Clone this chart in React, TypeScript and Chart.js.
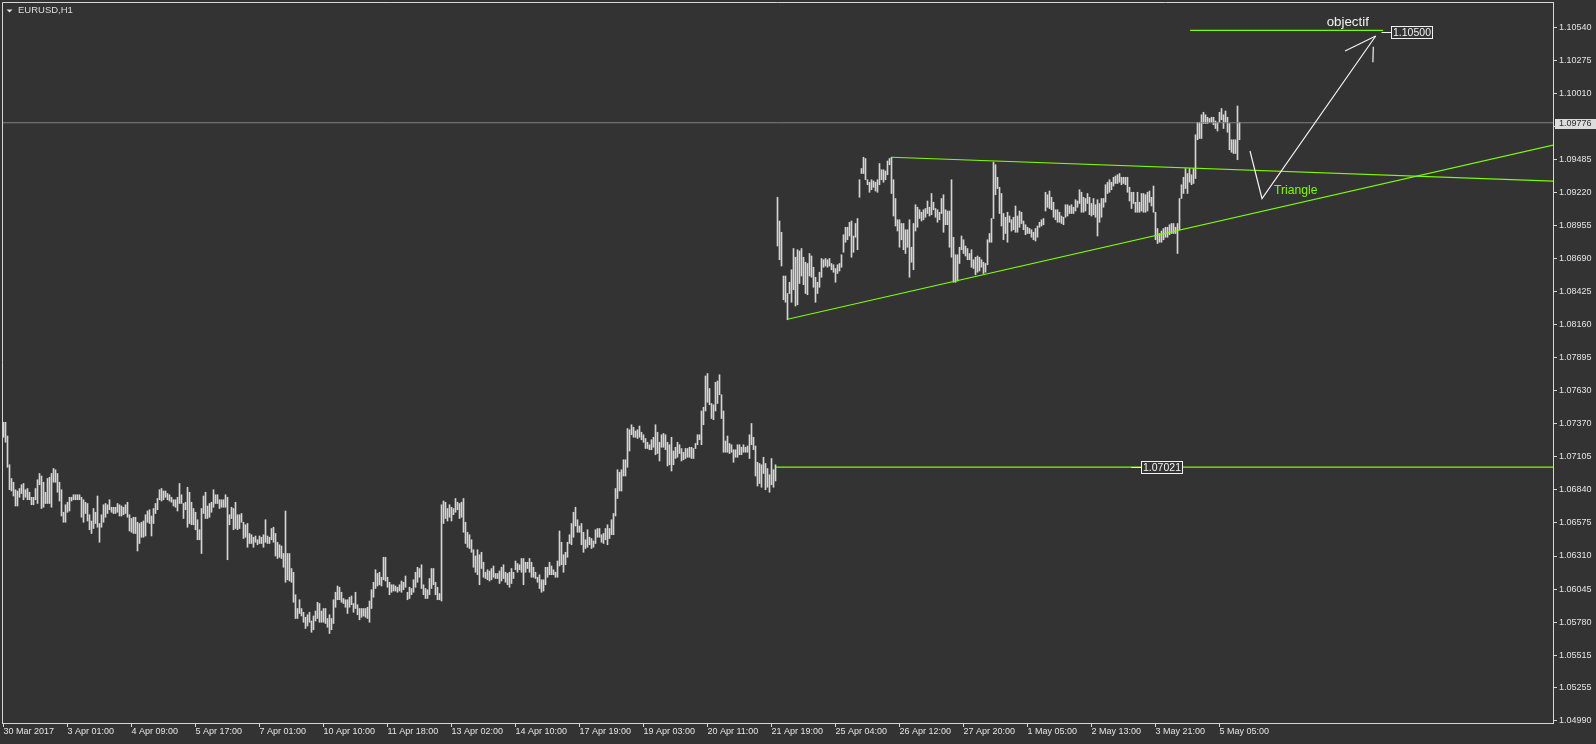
import React, { useEffect, useRef } from 'react';
import { Chart, registerables } from 'chart.js';

Chart.register(...registerables);

// ---------------- data ----------------
const SYMBOL_TITLE = 'EURUSD,H1';

// H1 bar highs / lows, stored in pips above 1.0000 (price = 1 + v / 10000)
// 30 Mar 2017 .. 21 Apr 2017 (bars 0..386)
const HIGH_A = [
  738,738,727,704,693,690,684,683,685,688,
  689,684,685,682,678,678,685,692,697,695,
  690,682,693,694,697,701,700,697,690,684,
  666,672,674,678,678,680,680,680,680,678,
  676,674,673,664,659,669,666,679,657,664,
  672,673,672,676,670,670,670,673,672,671,
  670,672,674,664,661,662,662,658,657,658,
  659,664,667,668,663,669,673,677,684,685,
  683,683,681,680,678,676,676,678,689,680,
  673,674,686,682,674,669,666,660,652,669,
  679,682,671,673,674,684,680,680,676,676,
  676,680,678,664,670,669,674,664,664,665,
  658,656,657,649,648,646,647,644,647,646,
  648,660,647,646,653,654,649,642,640,639,
  633,667,633,633,621,618,600,589,596,589,
  586,582,584,586,579,583,587,594,593,587,
  589,589,581,584,581,596,602,607,606,602,
  597,596,596,598,599,593,602,592,589,589,
  589,589,590,595,604,610,620,617,618,614,
  630,630,614,610,608,608,607,606,608,
  611,610,615,602,606,605,612,618,622,621,
  624,608,605,604,613,621,621,610,606,601,
  672,675,674,669,672,670,669,677,674,673,
  674,677,658,650,648,644,636,631,636,632,
  634,626,618,620,619,621,623,617,617,619,
  622,624,618,617,618,621,618,627,625,624,
  629,629,626,626,629,626,622,618,614,616,
  612,612,622,622,626,623,620,618,627,651,
  642,632,634,642,648,657,666,670,660,655,
  657,650,644,652,646,645,643,652,653,653,
  648,649,653,656,653,660,665,685,700,698,
  700,708,708,733,732,736,734,731,732,735,
  730,728,725,722,720,724,726,736,730,722,
  728,729,728,722,720,726,715,718,722,720,
  717,714,717,717,718,718,717,721,728,728,
  747,750,775,777,765,753,752,770,771,776,
  760,747,723,727,721,720,716,716,720,720,
  718,720,718,719,728,737,726,719,706,705,
  704,710,705,701,696,709,700,704,
];
const LOW_A = [
  726,722,702,684,683,679,671,671,678,681,
  676,678,676,676,672,672,676,673,688,669,
  670,673,673,673,670,690,690,682,675,663,
  658,658,666,667,675,676,676,676,676,662,
  658,665,659,652,649,653,657,654,642,654,
  658,662,665,668,666,665,665,666,663,663,
  664,665,662,651,650,649,649,635,641,646,
  646,647,658,657,647,657,665,668,676,675,
  676,678,676,675,674,671,670,667,673,673,
  661,668,654,657,656,656,652,644,644,633,
  665,661,661,662,666,670,673,673,669,670,
  670,670,628,656,661,652,653,652,653,658,
  645,646,638,641,641,638,642,640,641,641,
  638,642,641,641,644,642,631,629,630,629,
  622,610,612,611,610,594,581,581,585,583,
  578,573,575,578,570,572,579,581,578,578,
  578,577,574,569,572,577,590,596,596,594,
  593,590,585,590,592,586,589,584,580,582,
  583,582,581,578,589,598,605,607,608,607,
  612,611,606,600,602,603,603,602,603,
  602,604,606,596,597,600,602,606,610,614,
  605,600,597,597,600,605,608,600,596,596,
  595,657,661,659,662,659,664,666,668,661,
  662,650,641,638,637,634,622,618,616,608,
  621,614,613,612,611,612,614,613,613,609,
  611,613,610,608,606,609,613,620,618,620,
  618,608,618,621,618,614,614,613,610,605,
  602,603,608,614,616,616,616,614,614,623,
  624,618,624,630,641,640,646,655,650,650,
  640,634,637,638,640,637,638,641,646,646,
  642,641,644,640,645,648,648,663,677,683,
  683,695,695,702,715,728,726,726,725,726,
  724,722,717,717,716,716,718,712,713,707,
  718,718,716,703,704,699,704,709,710,713,
  707,708,709,710,710,709,709,717,720,724,
  720,736,747,754,752,741,740,747,753,760,
  741,714,714,714,713,714,706,710,710,712,
  712,714,714,714,709,720,716,695,687,689,
  686,697,684,686,682,688,686,691,
];
// 24 Apr 2017 .. 5 May 2017 (bars 387..618)
const HIGH_B = [
  918,899,890,855,855,841,850,860,877,870,
  876,875,877,870,866,865,873,871,862,854,
  850,858,869,868,869,868,869,865,864,861,
  864,865,872,888,894,894,898,899,887,897,
  901,932,941,950,949,932,930,932,931,930,
  932,945,940,940,939,947,949,950,932,917,
  900,900,897,897,892,892,900,878,897,912,
  910,908,906,908,909,915,910,921,914,909,
  908,906,917,920,908,907,907,932,886,872,
  872,878,887,884,879,877,873,876,868,870,
  871,870,868,866,865,884,889,901,946,944,
  934,926,921,905,902,906,903,900,902,911,
  903,907,906,899,896,894,893,892,890,893,
  895,898,900,901,922,920,923,918,914,908,
  908,906,903,902,912,912,911,912,910,916,
  915,924,922,918,917,921,918,913,917,912,
  916,913,917,917,928,930,932,930,934,935,
  936,937,934,934,934,934,926,922,922,914,
  922,914,921,921,920,922,923,918,927,906,
  893,889,891,893,894,894,896,897,897,894,
  897,917,
  928,934,941,937,941,936,941,968,978,978,
  984,986,984,982,981,982,982,979,978,986,
  989,984,987,982,977,964,964,964,991,978,
];
const LOW_B = [
  879,868,863,836,834,820,841,834,844,831,
  832,849,855,848,841,840,855,854,846,834,
  841,846,854,862,863,862,863,860,858,850,
  857,859,862,874,882,884,887,870,874,886,
  876,918,937,937,932,928,922,924,926,923,
  922,928,932,930,932,936,944,921,903,895,
  891,878,884,876,873,878,854,866,860,891,
  894,901,899,900,902,905,903,904,908,902,
  898,900,905,890,896,896,878,870,850,850,
  851,865,876,873,871,868,868,862,861,856,
  858,859,862,857,858,864,882,882,901,920,
  925,905,895,884,889,882,898,891,892,890,
  890,894,897,892,888,889,889,886,884,883,
  886,894,895,896,907,910,909,908,902,900,
  898,898,897,896,902,903,905,905,905,907,
  910,913,906,906,907,913,904,903,904,902,
  887,898,902,910,914,921,922,924,927,929,
  929,930,928,929,928,922,915,909,913,906,
  906,906,907,906,906,907,914,911,906,884,
  881,882,882,884,886,886,888,889,889,889,
  873,892,
  917,921,925,921,930,928,929,933,964,965,
  965,977,977,977,978,978,976,973,971,978,
  980,973,978,970,956,954,953,953,948,964,
];

// time axis labels (bar index of each label)
const TIME_TICK_BARS = [0,32,64,96,128,160,192,224,256,288,320,352,384,416,448,480,512,544,576,608];
const TIME_LABELS = [
  '30 Mar 2017','3 Apr 01:00','4 Apr 09:00','5 Apr 17:00','7 Apr 01:00','10 Apr 10:00',
  '11 Apr 18:00','13 Apr 02:00','14 Apr 10:00','17 Apr 19:00','19 Apr 03:00','20 Apr 11:00',
  '21 Apr 19:00','25 Apr 04:00','26 Apr 12:00','27 Apr 20:00','1 May 05:00','2 May 13:00',
  '3 May 21:00','5 May 05:00',
];
// price axis labels
const PRICE_TICKS = [
  1.10540,1.10275,1.10010,1.09750,1.09485,1.09220,1.08955,1.08690,1.08425,1.08160,1.07895,
  1.07630,1.07370,1.07105,1.06840,1.06575,1.06310,1.06045,1.05780,1.05515,1.05255,1.04990,
];

const PRICE_NOW = 1.09776;
const SUPPORT_LEVEL = 1.07021;
const SUPPORT_FROM_BAR = 386;
const TARGET_LEVEL = 1.105;
// drawn objects: [bar, price] anchor points
const TREND_UPPER = [[444, 1.0950], [775, 1.09309]];
const TREND_LOWER = [[392, 1.08204], [775, 1.09598]];
const TARGET_LINE = [[593.3, 1.10515], [689.8, 1.10515]];
const ARROW_PATH = [[623.25, 1.0955], [629.25, 1.0917], [686.1, 1.1047]];
const ARROW_BARB_A = [[670.75, 1.1035], [686.1, 1.1047]];
const ARROW_BARB_B = [[684.9, 1.10384], [684.7, 1.1026]];
// text notes
const NOTE_TEXTS = ['objectif', 'Triangle'];
const NOTE_BARS = [661.6, 635.25];
const NOTE_PRICES = [1.10576, 1.09232];
// price tags drawn on the chart
const TAG_PRICES = [SUPPORT_LEVEL, TARGET_LEVEL];
const TAG_BARS = [579, 703.75];

// ---------------- styles ----------------
const FONT = "'Liberation Sans', Arial, sans-serif";
const BG = '#333333';
const AXIS_LINE = '#d6d6d6';
const AXIS_TEXT = '#e4e4e4';
const BAR_COLOR = '#d4d4d4';
const GREEN = '#7cfc00';
const WHITE = '#f2f2f2';
const X_MIN = -0.75;
const X_MAX = 774.75;
const Y_MIN = 1.04974;
const Y_MAX = 1.10742;

const toPrice = (p: number) => 1 + p / 10000;
const pts = (arr: number[][]) => arr.map(([x, y]) => ({ x, y }));

export default function App() {
  const ref = useRef<HTMLCanvasElement>(null);

  useEffect(() => {
    document.body.style.margin = '0';
    document.body.style.background = BG;
    document.body.style.overflow = 'hidden';
    const canvas = ref.current;
    if (!canvas) return;

    const highs = [...HIGH_A, ...HIGH_B];
    const lows = [...LOW_A, ...LOW_B];
    const bars = highs.map((h, i) => ({ x: i, y: [toPrice(lows[i]), toPrice(h)] }));

    const lineDs = (data: any[], color: string, order: number, width = 1.2) => ({
      type: 'line',
      data,
      borderColor: color,
      borderWidth: width,
      pointRadius: 0,
      pointHoverRadius: 0,
      fill: false,
      tension: 0,
      order,
    });

    const overlay = {
      id: 'overlay',
      beforeDraw(chart: any) {
        const { ctx, width, height } = chart;
        ctx.save();
        ctx.fillStyle = BG;
        ctx.fillRect(0, 0, width, height);
        ctx.restore();
      },
      afterDraw(chart: any) {
        const { ctx, chartArea: a } = chart;
        const xs = chart.scales.x;
        const ys = chart.scales.y;
        ctx.save();
        // frame (left and top)
        ctx.strokeStyle = AXIS_LINE;
        ctx.lineWidth = 1;
        ctx.beginPath();
        ctx.moveTo(a.left + 0.5, a.bottom);
        ctx.lineTo(a.left + 0.5, a.top + 0.5);
        ctx.lineTo(a.right, a.top + 0.5);
        ctx.stroke();
        // title
        ctx.fillStyle = '#e0e0e0';
        ctx.beginPath();
        ctx.moveTo(6.5, 9.5);
        ctx.lineTo(12.5, 9.5);
        ctx.lineTo(9.5, 12.5);
        ctx.closePath();
        ctx.fill();
        ctx.font = `9.5px ${FONT}`;
        ctx.textBaseline = 'middle';
        ctx.textAlign = 'left';
        ctx.fillStyle = '#dedede';
        ctx.fillText(SYMBOL_TITLE, 18, 10.5);
        // notes
        NOTE_TEXTS.forEach((t, k) => {
          ctx.fillStyle = k === 0 ? WHITE : GREEN;
          ctx.font = k === 0 ? `13.3px ${FONT}` : `12.2px ${FONT}`;
          ctx.fillText(t, xs.getPixelForValue(NOTE_BARS[k]), ys.getPixelForValue(NOTE_PRICES[k]));
        });
        // price tags
        TAG_PRICES.forEach((p, k) => {
          const cx = xs.getPixelForValue(TAG_BARS[k]);
          const cy = Math.round(ys.getPixelForValue(p));
          const w = 41;
          const h = 12;
          const left = Math.round(cx - w / 2) + 0.5;
          const top = cy - 6 + 0.5;
          ctx.fillStyle = BG;
          ctx.fillRect(left, top, w, h);
          ctx.strokeStyle = WHITE;
          ctx.lineWidth = 1;
          ctx.strokeRect(left, top, w, h);
          ctx.beginPath();
          ctx.moveTo(left - 10, cy + 0.5);
          ctx.lineTo(left, cy + 0.5);
          ctx.stroke();
          ctx.fillStyle = WHITE;
          ctx.font = `10.5px ${FONT}`;
          ctx.textAlign = 'center';
          ctx.fillText(p.toFixed(5), left + w / 2, cy + 1);
        });
        // current price tag on the axis
        const py = ys.getPixelForValue(PRICE_NOW);
        ctx.fillStyle = '#dcdcdc';
        ctx.fillRect(a.right + 2, Math.round(py) - 4, 41, 10);
        ctx.fillStyle = '#2a2a2a';
        ctx.font = `9px ${FONT}`;
        ctx.textAlign = 'left';
        ctx.fillText(PRICE_NOW.toFixed(5), a.right + 6, py + 1);
        ctx.restore();
      },
    };

    const tickFont = { family: FONT, size: 9, lineHeight: 1 };

    const chart = new Chart(canvas, {
      type: 'bar',
      data: {
        datasets: [
          lineDs([{ x: X_MIN, y: PRICE_NOW }, { x: X_MAX, y: PRICE_NOW }], '#808080', 5, 1),
          lineDs([{ x: SUPPORT_FROM_BAR + 0.25, y: SUPPORT_LEVEL }, { x: X_MAX, y: SUPPORT_LEVEL }], GREEN, 2),
          lineDs(pts(TREND_UPPER), GREEN, 2),
          lineDs(pts(TREND_LOWER), GREEN, 2),
          lineDs(pts(TARGET_LINE), GREEN, 2),
          lineDs(pts(ARROW_PATH), WHITE, 1),
          lineDs(pts(ARROW_BARB_A), WHITE, 1),
          lineDs(pts(ARROW_BARB_B), WHITE, 1),
          {
            type: 'bar',
            data: bars,
            backgroundColor: BAR_COLOR,
            borderWidth: 0,
            barThickness: 1,
            order: 10,
          },
        ] as any,
      },
      options: {
        responsive: false,
        devicePixelRatio: 1,
        animation: false,
        events: [],
        layout: { padding: { left: 2, top: 2, right: 0, bottom: 0 } },
        plugins: { legend: { display: false }, tooltip: { enabled: false } },
        scales: {
          x: {
            type: 'linear',
            min: X_MIN,
            max: X_MAX,
            offset: false,
            afterBuildTicks: (s: any) => {
              s.ticks = TIME_TICK_BARS.map((v) => ({ value: v }));
            },
            afterFit: (s: any) => {
              s.height = 21;
              s.paddingLeft = 0;
              s.paddingRight = 0;
            },
            ticks: {
              autoSkip: false,
              maxRotation: 0,
              minRotation: 0,
              align: 'start',
              padding: 0,
              color: AXIS_TEXT,
              font: tickFont,
              callback: (v: any) => {
                const k = TIME_TICK_BARS.indexOf(Number(v));
                return k >= 0 ? TIME_LABELS[k] : '';
              },
            },
            grid: { drawOnChartArea: false, drawTicks: true, tickLength: 4, color: AXIS_LINE, offset: false },
            border: { display: true, color: AXIS_LINE, width: 1 },
          },
          y: {
            type: 'linear',
            position: 'right',
            min: Y_MIN,
            max: Y_MAX,
            afterBuildTicks: (s: any) => {
              s.ticks = PRICE_TICKS.map((v) => ({ value: v }));
            },
            afterFit: (s: any) => {
              s.width = 43;
              s.paddingTop = 0;
              s.paddingBottom = 0;
            },
            ticks: {
              autoSkip: false,
              padding: 2,
              color: AXIS_TEXT,
              font: tickFont,
              callback: (v: any) => Number(v).toFixed(5),
            },
            grid: { drawOnChartArea: false, drawTicks: true, tickLength: 4, color: AXIS_LINE },
            border: { display: true, color: AXIS_LINE, width: 1 },
          },
        },
      } as any,
      plugins: [overlay as any],
    });

    return () => chart.destroy();
  }, []);

  return (
    <div style={{ width: 1596, height: 744 }}>
      <canvas ref={ref} width={1596} height={744} style={{ display: 'block' }} />
    </div>
  );
}
